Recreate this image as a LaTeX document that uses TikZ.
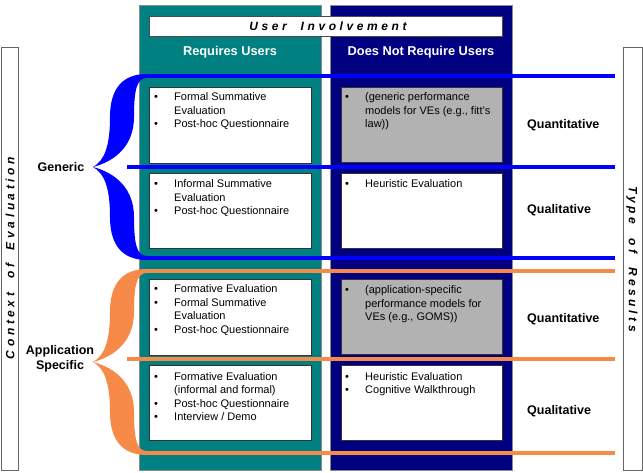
\documentclass[tikz,border=0pt]{standalone}
\usepackage{fontspec}
\setmainfont{Liberation Sans}
\newfontfamily\spacedfont[LetterSpace=30]{Liberation Sans}
\definecolor{tealc}{RGB}{0,128,128}
\definecolor{navyc}{RGB}{0,0,128}
\definecolor{bluec}{RGB}{0,0,255}
\definecolor{orangec}{RGB}{247,137,73}
\definecolor{grayc}{RGB}{178,178,178}
\newcommand\blist[1]{\begin{tabular}[t]{@{}p{20pt}@{}l@{}}#1\end{tabular}}
\tikzset{
  column/.style={draw=black!45, line width=0.6pt},
  cellbox/.style={draw=black!80, line width=0.7pt},
  listtext/.style={anchor=base west, inner sep=0pt, font=\fontsize{11}{13.5}\selectfont, align=left},
  header/.style={text=white, font=\bfseries\fontsize{12.8}{15}\selectfont, inner sep=0pt},
  label/.style={font=\bfseries\fontsize{12.5}{15.5}\selectfont, inner sep=0pt, align=center},
  sidebox/.style={draw=black!60, line width=0.6pt},
  sidetext/.style={font=\spacedfont\bfseries\itshape\fontsize{12}{14}\selectfont, inner sep=0pt},
  band/.style={line width=4pt},
  bracelobes/.pic={
    \fill[pic actions] (54,-93) .. controls (31,-93) and (17,-80) .. (17,-50)
      .. controls (17,-20) and (11,-6) .. (0,0)
      .. controls (23,-6) and (41,-22) .. (41,-50)
      .. controls (41,-78) and (44,-89) .. (54,-89) -- cycle;
    \fill[pic actions] (54,93) .. controls (31,93) and (17,80) .. (17,50)
      .. controls (17,20) and (11,6) .. (0,0)
      .. controls (23,6) and (41,22) .. (41,50)
      .. controls (41,78) and (44,89) .. (54,89) -- cycle;
  }
}
\begin{document}
\begin{tikzpicture}[x=1pt,y=-1pt]
\useasboundingbox (0,0) rectangle (643,473);
\fill[white] (0,0) rectangle (643,473);

% columns
\filldraw[column, fill=tealc] (139,5) rectangle (321,470);
\filldraw[column, fill=navyc] (330,5) rectangle (512,470);

% user involvement band
\filldraw[fill=white, draw=black!70, line width=0.6pt] (149,16) rectangle (502,36);
\node[sidetext] (ui) at (328,26.5) {User\ \ Involvement};

\node[header] (req) at (230,52) {Requires Users};
\node[header] (nreq) at (421,52) {Does Not Require Users};

% cell boxes
\filldraw[cellbox, fill=white] (149,87) rectangle (311,163);
\filldraw[cellbox, fill=white] (149,173) rectangle (311,248);
\filldraw[cellbox, fill=white] (149,279) rectangle (311,355);
\filldraw[cellbox, fill=white] (149,365) rectangle (311,440);
\filldraw[cellbox, fill=grayc] (341,87) rectangle (502,162);
\filldraw[cellbox, fill=white] (341,173) rectangle (502,248);
\filldraw[cellbox, fill=grayc] (341,279) rectangle (502,354);
\filldraw[cellbox, fill=white] (341,365) rectangle (502,440);

% cell texts
\node[listtext] (t1) at (154,101) {\blist{\textbullet & Formal Summative\\ & Evaluation\\ \textbullet & Post-hoc Questionnaire}};
\node[listtext] (t2) at (154,188) {\blist{\textbullet & Informal Summative\\ & Evaluation\\ \textbullet & Post-hoc Questionnaire}};
\node[listtext] (t3) at (154,293) {\blist{\textbullet & Formative Evaluation\\ \textbullet & Formal Summative\\ & Evaluation\\ \textbullet & Post-hoc Questionnaire}};
\node[listtext] (t4) at (154,380) {\blist{\textbullet & Formative Evaluation\\ & (informal and formal)\\ \textbullet & Post-hoc Questionnaire\\ \textbullet & Interview / Demo}};
\node[listtext] (n1) at (345,101) {\blist{\textbullet & (generic performance\\ & models for VEs (e.g., fitt's\\ & law))}};
\node[listtext] (n2) at (345,188) {\blist{\textbullet & Heuristic Evaluation}};
\node[listtext] (n3) at (345,294) {\blist{\textbullet & (application-specific\\ & performance models for\\ & VEs (e.g., GOMS))}};
\node[listtext] (n4) at (345,380) {\blist{\textbullet & Heuristic Evaluation\\ \textbullet & Cognitive Walkthrough}};

% line end points
\coordinate (gtopL) at (146,76);   \coordinate (gtopR) at (615,76);
\coordinate (gmidL) at (127,167);  \coordinate (gmidR) at (615,167);
\coordinate (gbotL) at (146,258);  \coordinate (gbotR) at (615,258);
\coordinate (atopL) at (146,271);  \coordinate (atopR) at (615,271);
\coordinate (amidL) at (127,359);  \coordinate (amidR) at (615,359);
\coordinate (abotL) at (146,453);  \coordinate (abotR) at (615,453);

\draw[band, bluec] (gtopL) -- (gtopR);
\draw[band, bluec] (gmidL) -- (gmidR);
\draw[band, bluec] (gbotL) -- (gbotR);
\draw[band, orangec] (atopL) -- (atopR);
\draw[band, orangec] (amidL) -- (amidR);
\draw[band, orangec] (abotL) -- (abotR);

% braces
\pic[fill=bluec] at (93,167) {bracelobes};
\pic[fill=orangec] at (93,362) {bracelobes};

% brace labels
\node[label] (generic) at (61,167) {Generic};
\node[label] (appspec) at (60,359) {Application\\Specific};

% result labels
\node[label, anchor=west] (q1) at (527,125) {Quantitative};
\node[label, anchor=west] (q2) at (527,210) {Qualitative};
\node[label, anchor=west] (q3) at (527,319) {Quantitative};
\node[label, anchor=west] (q4) at (527,411) {Qualitative};

% side boxes
\draw[sidebox] (1,47) rectangle (18,470);
\node[sidetext, rotate=90] (ctx) at (10,258) {Context\ \ of\ \ Evaluation};
\draw[sidebox] (623,47) rectangle (642,470);
\node[sidetext, rotate=-90] (tor) at (632,259) {Type\ \ of\ \ Results};
\end{tikzpicture}
\end{document}
